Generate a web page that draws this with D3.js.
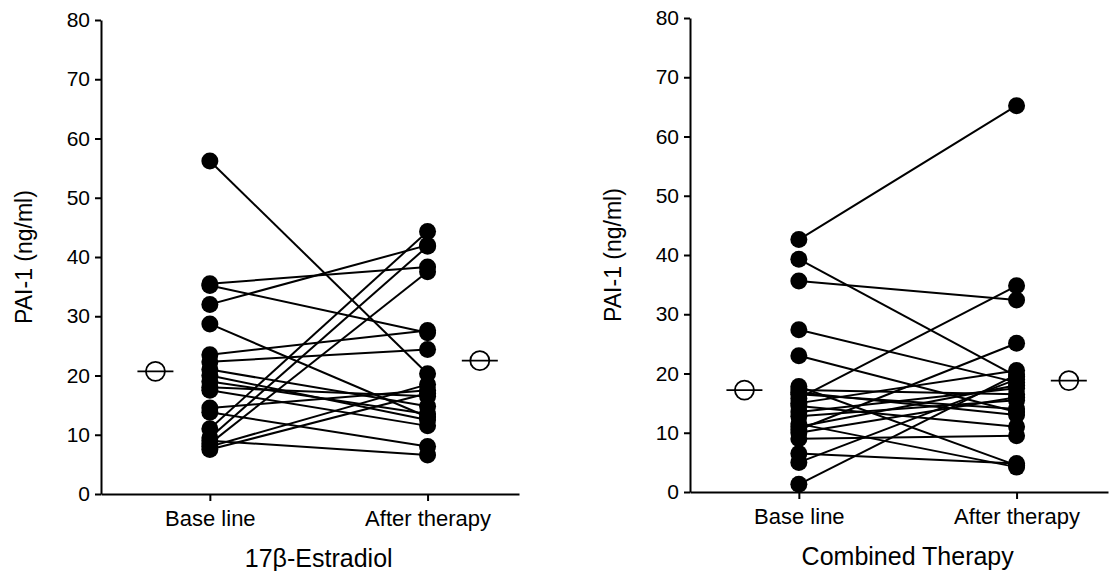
<!DOCTYPE html>
<html>
<head>
<meta charset="utf-8">
<script src="https://cdn.jsdelivr.net/npm/d3@7"></script>
<style>
  body { margin: 0; background: #fff; }
  svg text { font-family: "Liberation Sans", Arial, sans-serif; fill: #000; }
</style>
</head>
<body>
<div id="chart"></div>
<script>
// paired values (PAI-1, ng/ml)
var estBase  = [56.2, 35.5, 35.2, 32.0, 28.7, 23.5, 22.3, 21.0, 20.0, 19.0, 18.0, 17.5, 14.5, 11.0, 9.5, 8.5, 8.0, 7.5, 9.0, 13.8];
var estAfter = [20.3, 38.3, 27.2, 42.0, 13.0, 27.6, 24.4, 14.8, 12.5, 13.5, 16.5, 11.5, 17.5, 44.3, 41.8, 37.5, 18.5, 17.0, 6.6, 8.0];
var combBase  = [42.6, 39.3, 35.6, 27.4, 23.0, 17.8, 17.2, 16.5, 15.8, 15.0, 14.5, 13.5, 12.8, 11.5, 11.0, 10.5, 10.0, 9.0, 6.5, 5.0, 1.3, 16.8];
var combAfter = [65.2, 19.5, 32.4, 18.5, 13.5, 4.5, 16.5, 14.0, 34.8, 20.5, 11.0, 17.5, 15.5, 4.2, 18.0, 25.1, 16.0, 9.5, 4.8, 19.0, 19.8, 13.0];

// group means (open circles)
var estMeans = [20.7, 22.5];
var combMeans = [17.2, 18.8];

var categories = ["Base line", "After therapy"];
var yTicks = [0, 10, 20, 30, 40, 50, 60, 70, 80];
var yLabel = "PAI-1 (ng/ml)";
var titles = ["17\u03B2-Estradiol", "Combined Therapy"];

var svgWidth = 1117;
var svgHeight = 571;

var svg = d3.select("#chart")
  .append("svg")
  .attr("width", svgWidth)
  .attr("height", svgHeight);

function drawPanel(left, top, base, after, means, title) {
  var width = 418;
  var height = 474;

  var g = svg.append("g")
    .attr("transform", `translate(${left}, ${top})`);

  // 0 = base line, 1 = after therapy, means sit a quarter step outside
  var xScale = d3.scaleLinear()
    .domain([-0.5, 1.42])
    .range([0, width]);

  var yScale = d3.scaleLinear()
    .domain([0, 80])
    .range([height, 0]);

  var yAxis = d3.axisLeft(yScale)
    .tickValues(yTicks)
    .tickSize(6)
    .tickSizeOuter(0)
    .tickPadding(5);

  var xAxis = d3.axisBottom(xScale)
    .tickValues([0, 1])
    .tickFormat(function(d) { return categories[d]; })
    .tickSize(7)
    .tickSizeOuter(0)
    .tickPadding(9);

  var gx = g.append("g")
    .attr("transform", `translate(0, ${height})`)
    .call(xAxis);
  gx.selectAll("text").style("font-size", "22px");

  var gy = g.append("g").call(yAxis);
  gy.selectAll("text").style("font-size", "21px");

  g.selectAll(".domain, .tick line")
    .attr("stroke", "#000")
    .attr("stroke-width", 2);

  // y label
  g.append("text")
    .attr("transform", `translate(-77, ${height / 2}) rotate(-90)`)
    .attr("text-anchor", "middle")
    .attr("dy", "0.35em")
    .style("font-size", "23px")
    .text(yLabel);

  // panel title
  g.append("text")
    .attr("x", (xScale(0) + xScale(1)) / 2)
    .attr("y", height + 64)
    .attr("text-anchor", "middle")
    .attr("dy", "0.35em")
    .style("font-size", "25px")
    .text(title);

  var pairs = base.map(function(d, i) { return { b: d, a: after[i] }; });

  g.selectAll(".pairLine")
    .data(pairs).enter().append("line")
    .attr("class", "pairLine")
    .attr("x1", xScale(0))
    .attr("x2", xScale(1))
    .attr("y1", d => yScale(d.b))
    .attr("y2", d => yScale(d.a))
    .attr("stroke", "#000")
    .attr("stroke-width", 2);

  g.selectAll(".baseDot")
    .data(base).enter().append("circle")
    .attr("class", "baseDot")
    .attr("cx", xScale(0))
    .attr("cy", d => yScale(d))
    .attr("r", 8.5)
    .attr("fill", "#000");

  g.selectAll(".afterDot")
    .data(after).enter().append("circle")
    .attr("class", "afterDot")
    .attr("cx", xScale(1))
    .attr("cy", d => yScale(d))
    .attr("r", 8.5)
    .attr("fill", "#000");

  // mean markers
  var meanPos = [-0.25, 1.24];
  var meanGroup = g.selectAll(".mean")
    .data(means).enter().append("g")
    .attr("class", "mean")
    .attr("transform", (d, i) => `translate(${xScale(meanPos[i])}, ${yScale(d)})`);

  meanGroup.append("line")
    .attr("x1", -18).attr("x2", 18)
    .attr("stroke", "#000")
    .attr("stroke-width", 1.8);

  meanGroup.append("circle")
    .attr("r", 9.5)
    .attr("fill", "none")
    .attr("stroke", "#000")
    .attr("stroke-width", 1.8);
}

drawPanel(101, 20, estBase, estAfter, estMeans, titles[0]);
drawPanel(690, 18, combBase, combAfter, combMeans, titles[1]);
</script>
</body>
</html>
